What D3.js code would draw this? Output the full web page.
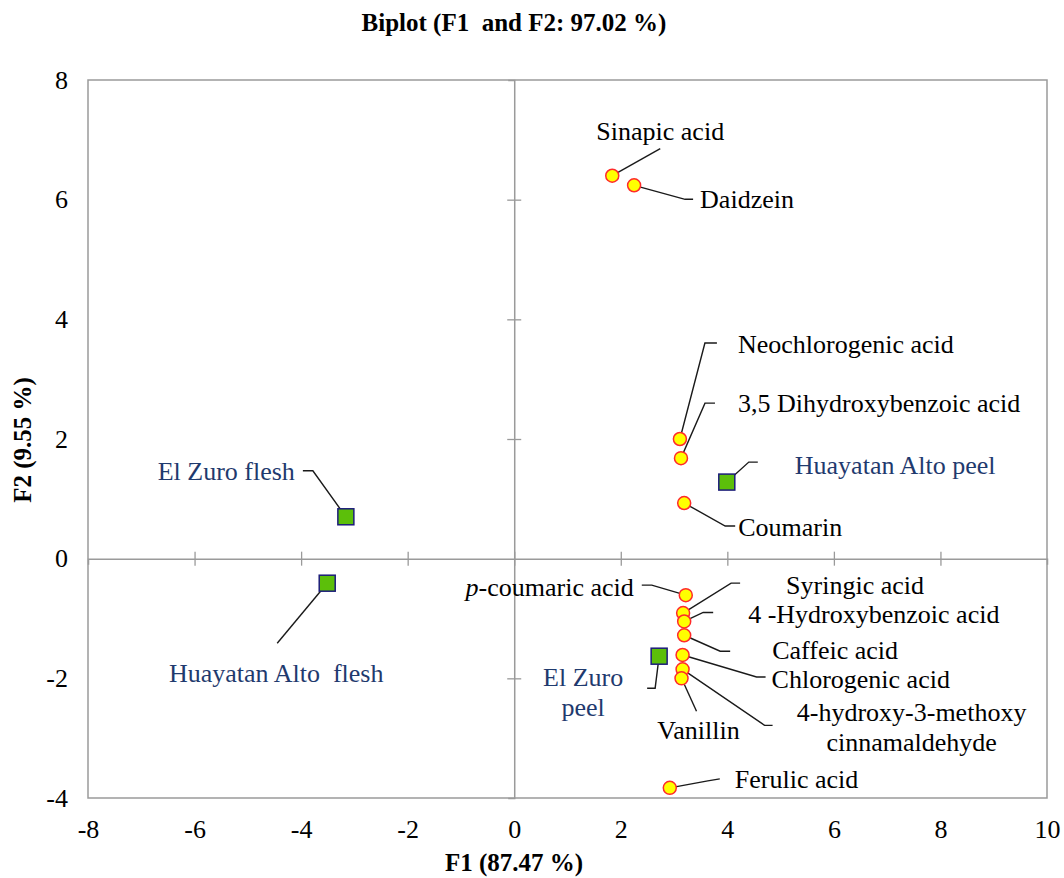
<!DOCTYPE html>
<html lang="en">

<head>
    <meta charset="UTF-8">
    <title>Biplot</title>
    <script src="https://d3js.org/d3.v7.min.js"></script>
    <style>
        body { margin: 0; background: #fff; }
        text { font-family: "Liberation Serif", "Times New Roman", serif; white-space: pre; }
    </style>
</head>

<body>
    <script>
        // active variables (yellow circles)
        var varNames = ["Sinapic acid", "Daidzein", "Neochlorogenic acid", "3,5 Dihydroxybenzoic acid", "Coumarin",
            "p-coumaric acid", "Syringic acid", "4 -Hydroxybenzoic acid", "Caffeic acid", "Chlorogenic acid",
            "4-hydroxy-3-methoxy cinnamaldehyde", "Vanillin", "Ferulic acid"];
        var varF1 = [1.84, 2.25, 3.11, 3.13, 3.19, 3.22, 3.17, 3.19, 3.19, 3.16, 3.16, 3.14, 2.92];
        var varF2 = [6.40, 6.24, 2.00, 1.68, 0.93, -0.61, -0.91, -1.05, -1.28, -1.61, -1.85, -2.00, -3.83];

        // observations (green squares)
        var obsNames = ["El Zuro flesh", "Huayatan Alto  flesh", "Huayatan Alto peel", "El Zuro peel"];
        var obsF1 = [-3.16, -3.51, 3.99, 2.72];
        var obsF2 = [0.70, -0.41, 1.28, -1.63];

        var xTicks = [-8, -6, -4, -2, 0, 2, 4, 6, 8, 10];
        var yTicks = [-4, -2, 0, 2, 4, 6, 8];

        // label placement: leader polyline + text offset, in px from the point
        var labelLayout = {
            "Sinapic acid": { path: [[0, 0], [48, -27]], dx: 48, dy: -44, anchor: "middle" },
            "Daidzein": { path: [[0, 0], [51, 14], [59, 14]], dx: 66, dy: 14, anchor: "start" },
            "Neochlorogenic acid": { path: [[0, 0], [25, -96], [37, -96]], dx: 58, dy: -95, anchor: "start" },
            "3,5 Dihydroxybenzoic acid": { path: [[0, 0], [24, -55], [34, -55]], dx: 57, dy: -55, anchor: "start" },
            "Coumarin": { path: [[0, 0], [41, 23], [51, 23]], dx: 54, dy: 24, anchor: "start" },
            "p-coumaric acid": { path: [[0, 0], [-34, -10], [-44, -10]], dx: -52, dy: -8, anchor: "end" },
            "Syringic acid": { path: [[0, 0], [48, -30], [57, -30]], dx: 103, dy: -28, anchor: "start" },
            "4 -Hydroxybenzoic acid": { path: [[0, 0], [19, -9], [29, -9]], dx: 64, dy: -7, anchor: "start" },
            "Caffeic acid": { path: [[0, 0], [36, 16], [46, 16]], dx: 88, dy: 15, anchor: "start" },
            "Chlorogenic acid": { path: [[0, 0], [74, 22], [83, 22]], dx: 89, dy: 24, anchor: "start" },
            "4-hydroxy-3-methoxy cinnamaldehyde": { path: [[0, 0], [82, 56], [90, 56]], dx: 229, dy: 43, anchor: "middle", lines: ["4-hydroxy-3-methoxy", "cinnamaldehyde"] },
            "Vanillin": { path: [[0, 0], [15, 33]], dx: 17, dy: 52, anchor: "middle" },
            "Ferulic acid": { path: [[0, 0], [38, -7], [50, -9]], dx: 65, dy: -8, anchor: "start" },
            "El Zuro flesh": { path: [[0, 0], [-33, -46], [-43, -46]], dx: -51, dy: -45, anchor: "end" },
            "Huayatan Alto  flesh": { path: [[0, 0], [-50, 60]], dx: -51, dy: 90, anchor: "middle" },
            "Huayatan Alto peel": { path: [[0, 0], [22, -20], [31, -20]], dx: 68, dy: -17, anchor: "start" },
            "El Zuro peel": { path: [[0, 0], [-4, 32], [-12, 32]], dx: -76, dy: 21, anchor: "middle", lines: ["El Zuro", "peel"] }
        };

        var width = 1064, height = 878;
        var fs = 26, lineGap = 30;
        var gray = "#9a9a9a";

        var svg = d3.select("body").append("svg")
            .attr("width", width)
            .attr("height", height);

        var x = d3.scaleLinear().domain([-8, 10]).range([88, 1047]);
        var y = d3.scaleLinear().domain([-4, 8]).range([798, 80]);

        // frame
        svg.append("rect")
            .attr("x", x(-8)).attr("y", y(8))
            .attr("width", x(10) - x(-8)).attr("height", y(-4) - y(8))
            .attr("fill", "none").attr("stroke", gray).attr("stroke-width", 1.5);

        // zero lines with crossing ticks
        var xZero = svg.append("g").attr("transform", "translate(0," + y(0) + ")")
            .call(d3.axisBottom(x).tickValues(xTicks.filter(d => d > -8 && d < 10)).tickFormat(""));
        var yZero = svg.append("g").attr("transform", "translate(" + x(0) + ",0)")
            .call(d3.axisLeft(y).tickValues(yTicks.filter(d => d > -4 && d < 8 && d != 0)).tickFormat(""));
        [xZero, yZero].forEach(function (g) {
            g.select(".domain").attr("stroke", gray).attr("stroke-width", 1.5);
        });
        xZero.selectAll(".tick line").attr("y1", -7).attr("y2", 7).attr("stroke", gray).attr("stroke-width", 1.3);
        yZero.selectAll(".tick line").attr("x1", -7).attr("x2", 7).attr("stroke", gray).attr("stroke-width", 1.3);

        // tick labels on the frame edges (plain hyphen minus like the original)
        var xLab = svg.append("g").attr("transform", "translate(0," + y(-4) + ")")
            .call(d3.axisBottom(x).tickValues(xTicks).tickSize(0).tickPadding(22).tickFormat(d => String(d)));
        var yLab = svg.append("g").attr("transform", "translate(" + x(-8) + ",0)")
            .call(d3.axisLeft(y).tickValues(yTicks).tickSize(0).tickPadding(20).tickFormat(d => String(d)));
        [xLab, yLab].forEach(function (g) {
            g.select(".domain").remove();
            g.selectAll("text").attr("font-family", "Liberation Serif").attr("font-size", fs).attr("fill", "#000");
        });

        // titles
        svg.append("text").attr("x", 514).attr("y", 31).attr("text-anchor", "middle")
            .attr("font-size", 25).attr("font-weight", "bold").text("Biplot (F1  and F2: 97.02 %)");
        svg.append("text").attr("x", 514).attr("y", 871).attr("text-anchor", "middle")
            .attr("font-size", 25).attr("font-weight", "bold").text("F1 (87.47 %)");
        svg.append("text").attr("transform", "translate(31,440) rotate(-90)").attr("text-anchor", "middle")
            .attr("font-size", 25).attr("font-weight", "bold").text("F2 (9.55 %)");

        var vars = varNames.map((n, i) => ({ name: n, f1: varF1[i], f2: varF2[i], kind: "var" }));
        var obs = obsNames.map((n, i) => ({ name: n, f1: obsF1[i], f2: obsF2[i], kind: "obs" }));
        var all = vars.concat(obs);

        // leader lines
        var line = d3.line();
        svg.selectAll("path.leader").data(all).enter().append("path")
            .attr("class", "leader")
            .attr("d", function (d) {
                var px = x(d.f1), py = y(d.f2);
                return line(labelLayout[d.name].path.map(p => [px + p[0], py + p[1]]));
            })
            .attr("fill", "none").attr("stroke", "#1a1a1a").attr("stroke-width", 1.4);

        // markers
        svg.selectAll("circle.var").data(vars).enter().append("circle")
            .attr("class", "var")
            .attr("cx", d => x(d.f1)).attr("cy", d => y(d.f2)).attr("r", 6.5)
            .attr("fill", "#ffff00").attr("stroke", "#ff2a2a").attr("stroke-width", 1.5);
        svg.selectAll("rect.obs").data(obs).enter().append("rect")
            .attr("class", "obs")
            .attr("x", d => x(d.f1) - 8).attr("y", d => y(d.f2) - 8).attr("width", 16).attr("height", 16)
            .attr("fill", "#5cbf0a").attr("stroke", "#1c1c7a").attr("stroke-width", 1.5);

        // labels
        all.forEach(function (d) {
            var L = labelLayout[d.name];
            var t = svg.append("text")
                .attr("x", x(d.f1) + L.dx)
                .attr("y", y(d.f2) + L.dy + fs * 0.33)
                .attr("text-anchor", L.anchor)
                .attr("font-size", fs)
                .attr("fill", d.kind == "obs" ? "#1f3a6e" : "#000");
            if (L.lines) {
                L.lines.forEach(function (s, i) {
                    t.append("tspan").attr("x", x(d.f1) + L.dx).attr("dy", i ? lineGap : 0).text(s);
                });
            } else if (d.name == "p-coumaric acid") {
                t.append("tspan").attr("font-style", "italic").text("p");
                t.append("tspan").text("-coumaric acid");
            } else {
                t.text(d.name);
            }
        });
    </script>
</body>

</html>
